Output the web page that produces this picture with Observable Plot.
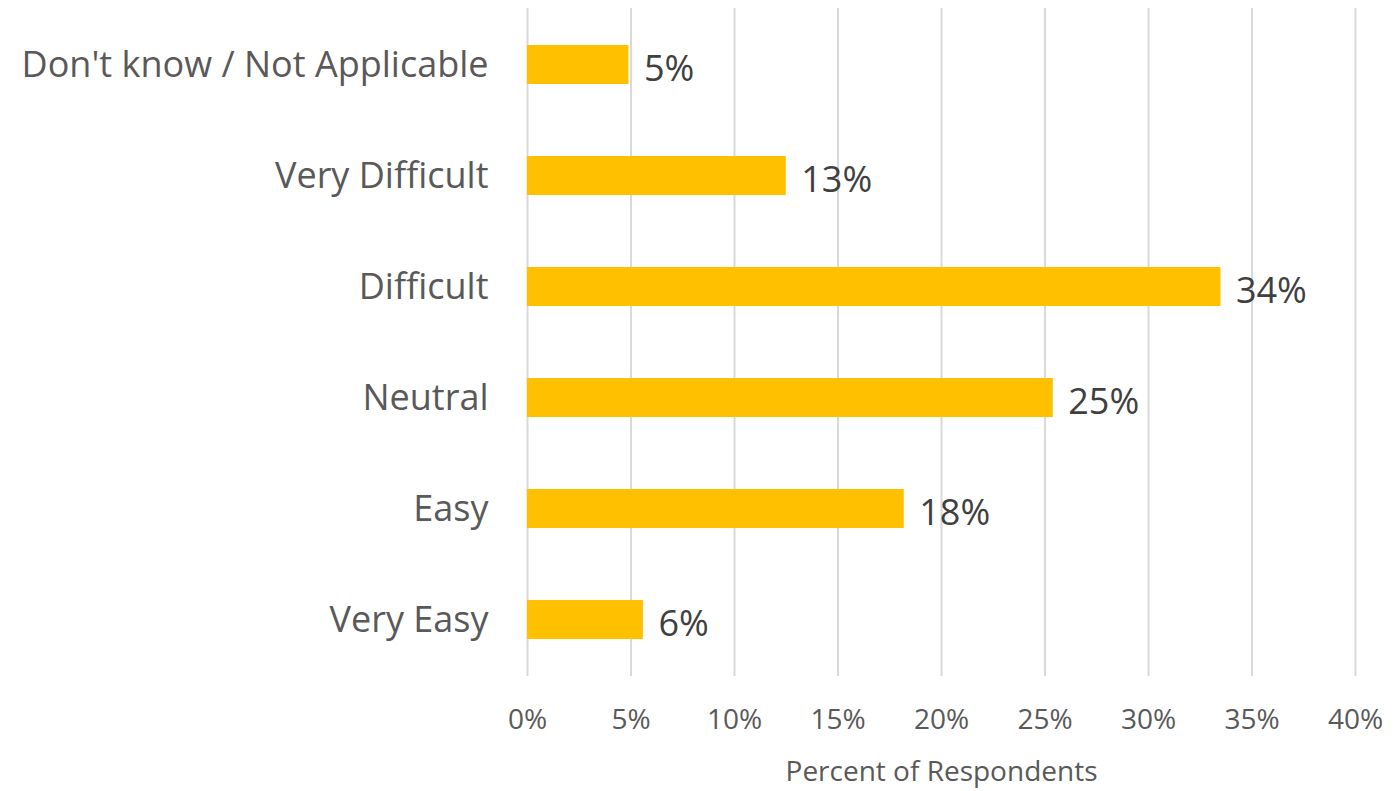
<!DOCTYPE html>
<html><head><meta charset="utf-8">
<script src="https://cdn.jsdelivr.net/npm/d3@7"></script>
<script src="https://cdn.jsdelivr.net/npm/@observablehq/plot@0.6"></script>
<style>body{margin:0;background:#fff;}</style>
</head><body><div id="chart"></div>
<script>
const categories = ["Don't know / Not Applicable", "Very Difficult", "Difficult", "Neutral", "Easy", "Very Easy"];
const values = [4.9, 12.5, 33.5, 25.4, 18.2, 5.6];
const valueLabels = ["5%", "13%", "34%", "25%", "18%", "6%"];
const xTicks = [0, 5, 10, 15, 20, 25, 30, 35, 40];
const axisTitle = "Percent of Respondents";

const data = categories.map((c, i) => ({category: c, value: values[i], label: valueLabels[i]}));

const chart = Plot.plot({
  width: 1396, height: 791,
  marginLeft: 527, marginRight: 41, marginTop: 8, marginBottom: 115,
  style: {fontFamily: "'Open Sans', 'Noto Sans', sans-serif", background: "white"},
  x: {domain: [0, 40], label: null},
  y: {domain: categories, paddingInner: 0.65, paddingOuter: 0.318, label: null},
  marks: [
    Plot.gridX(xTicks, {stroke: "#d9d9d9", strokeOpacity: 1, strokeWidth: 2}),
    Plot.barX(data, {x: "value", y: "category", fill: "#FFC000"}),
    Plot.text(data, {x: "value", y: "category", text: "label", textAnchor: "start", dx: 15, dy: 4, fontSize: 36, fill: "#404040"}),
    Plot.axisY({tickSize: 0, tickPadding: 39, fontSize: 36, color: "#595959", label: null}),
    Plot.axisX(xTicks, {tickSize: 0, tickPadding: 33, fontSize: 28, color: "#595959", tickFormat: d => d + "%",
      label: axisTitle, labelAnchor: "center", labelOffset: 104, labelArrow: "none"})
  ]
});
document.getElementById("chart").appendChild(chart);
</script>
</body></html>
